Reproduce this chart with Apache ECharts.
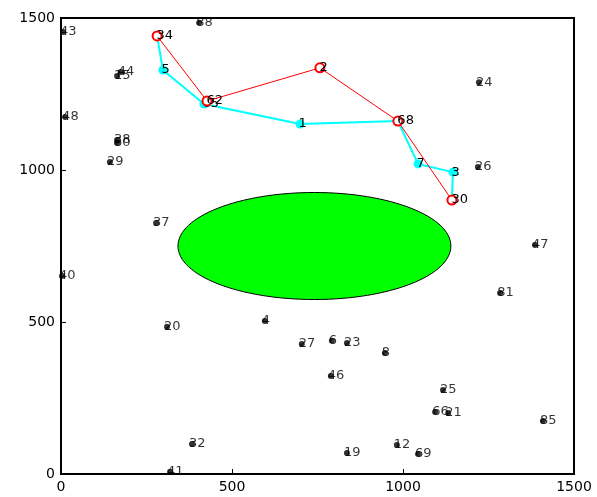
<!DOCTYPE html>
<html><head><meta charset="utf-8">
<script src="https://cdn.jsdelivr.net/npm/echarts@6/dist/echarts.min.js"></script>
<style>html,body{margin:0;padding:0;background:#fff}#c{width:597px;height:497px}</style>
</head><body><div id="c"></div><script>
// scatter points (black dots)
const pointLabels = ['43','88','44','15','48','38','60','29','24','26','47','81','37','40','20','4','27','6','23','8','46','25','66','21','85','12','69','19','32','41'];
const pointX = [6,404,175,164,12,164,164,143,1222,1219,1386,1284,278,3,310,596,704,792,836,947,789,1117,1094,1132,1409,982,1044,836,383,319];
const pointY = [1454,1484,1322,1309,1174,1099,1089,1026,1289,1010,753,595,826,651,484,503,428,438,431,398,322,276,204,201,174,95,66,69,99,7];
// red route
const redLabels = ['34','62','2','68','30'];
const redX = [281,427,757,985,1143];
const redY = [1441,1227,1336,1161,901];
// cyan route
const cyanLabels = ['','5','65','1','','7','3',''];
const cyanX = [281,298,418,699,985,1044,1146,1143];
const cyanY = [1441,1329,1217,1151,1161,1020,993,901];
// ellipse (center x, center y, radius x, radius y)
const ellipseData = [[741, 750, 399, 176]];
// axes
const axisMin = 0, axisMax = 1500, axisStep = 500;

const FONT = 'DejaVu Sans';
function pts(labels, xs, ys) { return labels.map((n, i) => ({ name: n, value: [xs[i], ys[i]] })); }
const lbl = { show: true, formatter: p => p.name, position: 'right', distance: 0, offset: [-6, 0], color: '#000', fontFamily: FONT, fontSize: 13 };

const chart = echarts.init(document.getElementById('c'), null, { renderer: 'canvas' });
const axisCommon = {
  type: 'value', min: axisMin, max: axisMax, interval: axisStep,
  axisLine: { show: true, lineStyle: { color: '#000', width: 1.5 } },
  axisTick: { show: true, inside: true, length: 5, lineStyle: { color: '#000' } },
  axisLabel: { color: '#000', fontFamily: FONT, fontSize: 14, margin: 6, formatter: v => String(v) },
  splitLine: { show: false }
};
chart.setOption({
  animation: false,
  backgroundColor: '#fff',
  grid: { left: 61, right: 23, top: 18, bottom: 23, show: true, borderColor: '#000', borderWidth: 2, backgroundColor: 'transparent' },
  xAxis: Object.assign({}, axisCommon),
  yAxis: Object.assign({}, axisCommon),
  series: [
    {
      type: 'custom', z: 1, data: ellipseData,
      renderItem: function (params, api) {
        const c = api.coord([api.value(0), api.value(1)]);
        const s = api.size([api.value(2), api.value(3)]);
        return { type: 'ellipse', shape: { cx: c[0], cy: c[1], rx: s[0], ry: s[1] },
          style: { fill: '#00ff00', stroke: '#000', lineWidth: 1 } };
      }
    },
    {
      type: 'line', z: 3, data: pts(cyanLabels, cyanX, cyanY),
      lineStyle: { color: '#00ffff', width: 2 },
      symbol: 'circle', symbolSize: 9, itemStyle: { color: '#00ffff' },
      label: lbl
    },
    {
      type: 'line', z: 4, data: pts(redLabels, redX, redY),
      lineStyle: { color: '#ff0000', width: 1 },
      symbol: 'emptyCircle', symbolSize: 9, itemStyle: { color: '#ff0000', borderWidth: 1.5 },
      label: lbl
    },
    {
      type: 'scatter', z: 5, data: pts(pointLabels, pointX, pointY),
      symbol: 'circle', symbolSize: 6, itemStyle: { color: '#000' },
      label: lbl
    }
  ]
});
</script></body></html>
